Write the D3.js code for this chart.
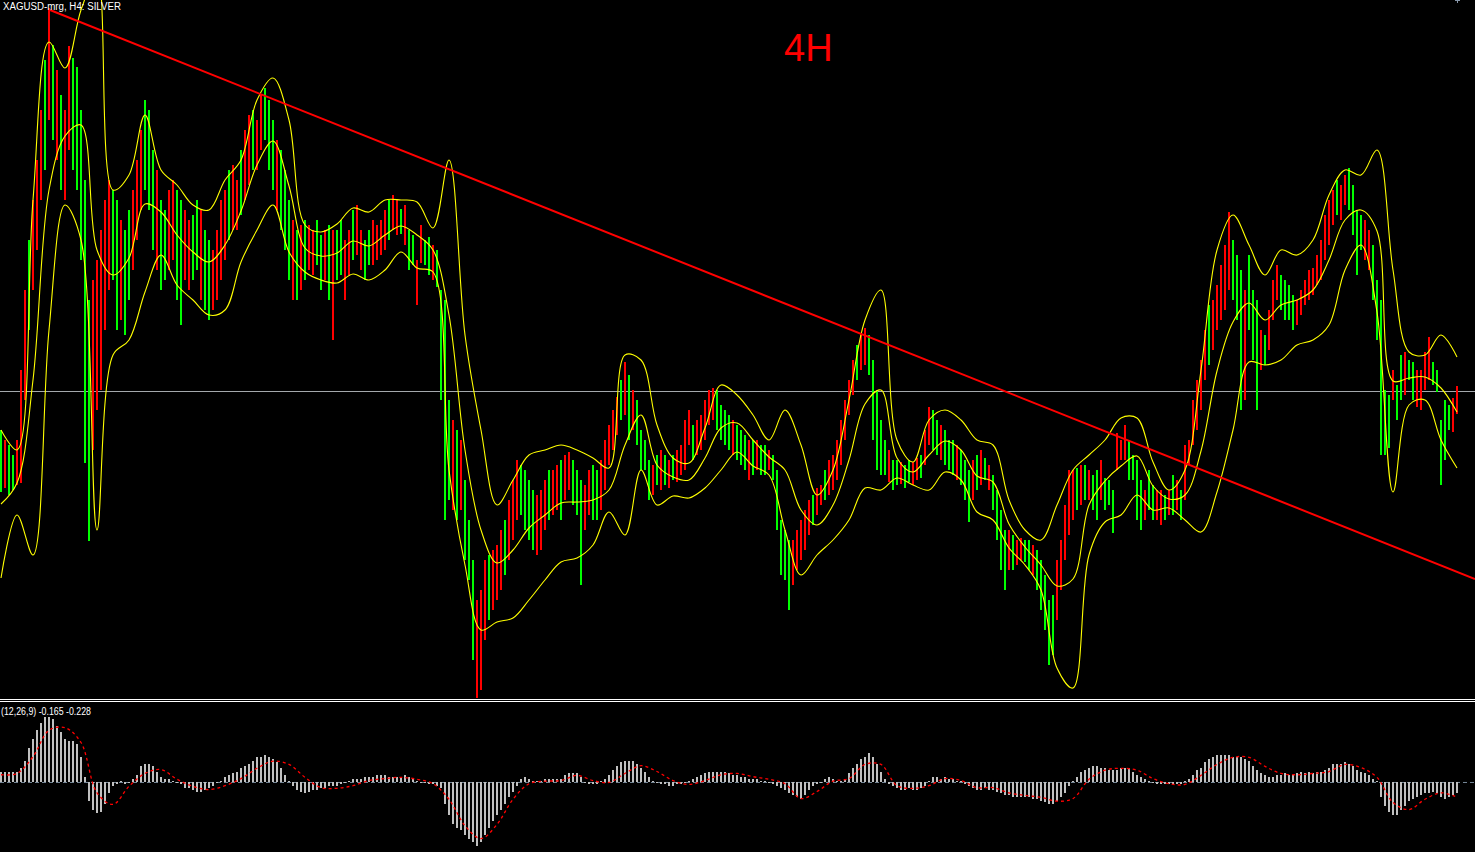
<!DOCTYPE html>
<html><head><meta charset="utf-8">
<script src="https://cdn.jsdelivr.net/npm/d3@7"></script>
<style>html,body{margin:0;padding:0;background:#000;overflow:hidden}</style>
</head><body><svg id="c" width="1475" height="852"></svg>
<script>
// ---------- data ----------
const chartTitle = "XAGUSD-mrg, H4: SILVER";
const timeframeLabel = "4H";
const macdLabel = "(12,26,9) -0.165 -0.228";

// H4 bars: highs / lows (price), direction u = up bar, d = down bar
const highs = [
24.70,24.60,24.55,24.45,24.60,25.30,26.10,26.60,27.00,27.40,
27.90,28.40,28.92,28.55,28.30,28.05,27.90,28.54,28.42,28.33,
27.90,27.20,26.00,26.20,26.40,
26.70,27.00,27.20,27.10,27.00,26.80,26.70,26.90,27.10,27.40,
27.70,28.00,27.90,27.50,27.30,27.00,26.90,27.10,27.20,27.10,
27.00,26.90,26.80,26.85,27.00,26.90,26.70,26.60,26.50,26.70,
27.00,27.10,27.30,27.35,27.20,27.50,27.70,27.85,27.90,27.80,
28.05,28.12,28.00,27.80,27.60,27.50,27.30,27.00,26.80,26.70,
26.75,26.80,26.75,26.70,26.80,26.65,26.70,26.75,26.70,26.70,
26.80,26.60,26.70,26.90,26.95,26.70,26.60,26.70,26.80,26.75,
26.80,26.90,27.00,27.05,27.00,26.91,26.95,26.70,26.65,26.40,
26.75,26.60,26.63,26.55,26.50,
26.10,26.00,25.00,24.80,24.70,24.60,24.20,23.80,23.40,23.00,
23.10,23.40,23.45,23.50,23.55,23.70,23.80,24.00,24.20,24.40,
24.35,
24.30,24.20,24.10,24.05,24.10,24.20,24.30,24.30,24.35,24.40,
24.45,24.48,24.40,24.30,24.20,24.15,24.30,24.35,24.30,24.40,
24.60,24.75,24.90,25.03,25.20,25.38,25.25,25.10,25.00,24.70,
24.60,24.40,24.35,24.45,24.50,24.45,24.40,24.45,24.50,24.55,
24.80,24.90,24.75,24.80,24.85,25.00,25.10,25.12,25.10,24.95,
24.90,24.85,24.80,24.75,24.70,24.65,24.60,24.60,24.60,24.55,
24.55,24.50,24.45,24.30,23.80,23.70,23.60,23.60,23.70,23.80,
23.90,24.00,24.05,24.12,24.15,24.30,24.40,24.45,24.60,24.80,
25.00,25.20,25.40,25.55,25.65,25.72,25.65,25.40,25.10,24.80,
24.60,24.50,24.40,24.40,24.38,24.35,24.40,24.38,24.42,24.45,
24.70,24.93,24.90,24.80,24.75,24.70,24.60,24.60,24.55,24.50,
24.40,24.30,24.40,24.45,24.50,24.42,24.35,24.25,24.10,23.90,
23.70,23.70,23.65,23.60,23.62,23.60,23.60,23.55,23.50,23.40,
23.25,23.00,23.05,23.40,23.60,23.95,24.30,24.30,24.32,24.35,
24.35,24.30,24.25,24.30,24.40,24.22,24.20,24.10,24.67,24.60,
24.75,24.60,24.45,24.40,24.20,24.10,24.30,24.15,24.10,24.10,
24.05,24.10,24.25,24.20,24.10,
24.55,24.60,25.00,25.20,25.40,25.70,25.95,26.00,26.15,26.35,
26.55,26.88,26.60,26.45,26.30,26.10,26.45,26.10,26.00,25.70,
25.65,25.90,26.20,26.35,26.25,26.20,26.15,26.05,26.00,26.10,
26.20,26.30,26.32,26.45,26.60,26.85,27.00,27.10,27.20,27.15,
27.25,27.32,27.15,26.90,26.85,26.80,26.70,26.55,26.20,26.00,
25.10,25.05,25.30,25.15,25.45,25.48,25.40,25.38,25.30,25.30,
25.48,25.63,25.38,25.30,24.80,25.00,24.95,25.02,25.14];

const lows = [
24.08,24.12,24.05,24.10,24.15,24.17,25.00,25.70,26.10,26.50,
27.00,27.30,27.80,27.60,27.40,27.10,27.00,27.50,27.30,27.10,
26.40,24.37,23.59,24.50,24.90,
25.10,25.70,26.10,26.20,25.70,25.80,25.65,26.00,26.30,26.60,
26.90,27.10,26.90,26.50,26.30,26.10,26.20,26.30,26.40,26.00,
25.75,26.20,26.10,26.20,26.30,26.00,25.90,25.80,25.90,26.00,
26.20,26.40,26.60,26.70,26.70,26.85,27.00,27.15,27.30,27.30,
27.50,27.60,27.30,27.10,26.90,26.70,26.50,26.20,26.00,26.00,
26.10,26.20,26.30,26.25,26.35,26.10,26.20,26.00,25.60,26.20,
26.25,26.00,26.25,26.40,26.45,26.30,26.20,26.35,26.35,26.40,
26.45,26.50,26.60,26.70,26.65,26.66,26.55,26.30,26.35,25.95,
26.37,26.35,26.25,26.20,26.13,
25.00,23.80,24.00,23.90,23.80,23.90,23.40,23.20,22.40,22.02,
22.10,22.60,22.80,22.90,23.00,23.10,23.25,23.40,23.60,23.80,
23.85,
23.70,23.60,23.50,23.45,23.50,23.70,23.80,23.85,23.90,23.80,
24.00,24.10,23.95,23.85,23.15,23.70,23.85,23.80,23.80,23.90,
24.10,24.35,24.50,24.65,24.80,24.85,24.60,24.70,24.55,24.30,
24.30,24.00,24.05,24.15,24.10,24.15,24.12,24.20,24.18,24.25,
24.30,24.55,24.40,24.45,24.50,24.60,24.75,24.80,24.70,24.60,
24.55,24.50,24.45,24.40,24.35,24.30,24.20,24.25,24.30,24.25,
24.25,24.30,24.20,23.70,23.25,23.20,22.90,23.15,23.30,23.40,
23.50,23.65,23.75,23.85,23.95,24.00,24.05,24.10,24.20,24.35,
24.60,24.85,25.05,25.20,25.30,25.35,25.25,24.60,24.30,24.25,
24.25,24.18,24.10,24.15,24.16,24.12,24.18,24.15,24.20,24.22,
24.35,24.55,24.50,24.45,24.40,24.35,24.30,24.25,24.20,24.15,
24.00,23.78,24.00,24.10,24.15,24.20,24.10,23.90,23.60,23.30,
23.10,23.30,23.30,23.35,23.40,23.38,23.30,23.25,23.10,22.90,
22.70,22.35,22.45,22.80,23.10,23.40,23.65,23.80,23.90,23.95,
24.00,24.00,23.90,23.80,24.00,23.90,23.95,23.67,24.30,24.40,
24.40,24.20,24.20,23.80,23.70,23.80,23.90,23.80,23.80,23.75,
23.80,23.85,23.85,23.90,23.80,
24.00,24.35,24.55,24.70,24.90,25.20,25.35,25.50,25.70,25.80,
25.90,26.10,26.00,25.80,24.90,25.00,25.70,25.40,24.90,25.30,
25.35,25.50,25.80,26.00,25.90,25.80,25.80,25.70,25.75,25.85,
25.95,26.00,26.05,26.15,26.20,26.40,26.55,26.75,26.85,26.80,
26.95,26.90,26.65,26.25,26.50,26.40,26.30,26.00,25.60,24.45,
24.45,24.52,25.00,24.80,25.00,25.05,25.20,25.00,24.93,24.90,
25.10,25.20,25.15,25.08,24.15,24.40,24.70,24.68,24.86];

const barDirs = [
"dudduuuduu","udududuudd","ddduu",
"uuuddudduu","udddudduud","duuddudduu","uuduuduudu","udddudddud",
"uduuddudud","duuduudduu","uuduududdu","uddud",
"dddududddu","uuduuuduuu","d",
"ddduuuduud","uuddduuddu","uuuudududd","ddudududuu","uuduuuuudd",
"ddudddudud","duddddduuu","uuduuduuuu","uuuduudddd","duddudduud",
"uuddudddud","ddudududdd","duduuddudd","ddduuuuudu","dudduddduu",
"uddddudduu","dudud",
"uuuuuuduuu","uudddudddu","duuudddduu","uuuuuuuudu","udddduuddd",
"dduddudduu","uuddddduu"].join("");

// Bollinger bands, one value every 4 bars
const bandStep = 4;
const bbUpper = [
24.70,24.50,27.00,28.58,28.32,28.90,29.25,27.10,27.25,27.85,
27.30,27.15,26.95,26.90,27.20,27.40,28.00,28.22,27.80,26.75,
26.68,26.76,26.92,26.88,27.00,27.00,26.98,26.72,27.40,25.65,
24.70,23.95,24.20,24.45,24.50,24.55,24.50,24.42,24.32,25.45,
25.40,24.75,24.42,24.37,24.72,25.15,25.05,24.85,24.60,24.90,
24.55,24.05,24.30,25.00,25.80,26.10,24.60,24.38,24.80,24.90,
24.80,24.60,24.55,24.00,23.70,23.60,23.95,24.30,24.45,24.60,
24.82,24.82,24.38,24.10,24.30,25.30,26.50,26.85,26.55,26.25,
26.50,26.45,26.60,27.05,27.30,27.25,27.50,26.30,25.48,25.45,
25.65,25.43];
const bbMiddle = [
23.96,24.17,25.20,27.10,27.64,27.75,26.50,26.25,26.42,26.96,
26.88,26.65,26.48,26.38,26.55,26.89,27.35,27.59,27.14,26.52,
26.44,26.47,26.59,26.54,26.65,26.74,26.65,26.50,25.85,24.50,
23.70,23.37,23.50,23.72,23.85,23.97,23.98,24.00,24.10,24.55,
24.85,24.35,24.23,24.20,24.42,24.72,24.77,24.60,24.43,24.30,
23.90,23.75,23.95,24.40,24.96,25.10,24.42,24.28,24.45,24.59,
24.50,24.24,24.18,23.76,23.53,23.35,23.14,23.21,23.95,24.19,
24.34,24.44,24.14,24.01,24.05,24.49,25.29,25.78,25.97,25.80,
25.95,26.00,26.10,26.40,26.80,26.90,26.69,25.19,25.22,25.23,
25.12,24.88];
const bbLower = [
23.22,23.85,23.45,25.70,26.95,26.60,23.70,25.45,25.60,26.08,
26.45,26.15,26.00,25.85,25.90,26.38,26.70,26.95,26.48,26.28,
26.20,26.17,26.26,26.20,26.30,26.48,26.32,26.28,24.30,23.35,
22.70,22.78,22.82,23.00,23.20,23.38,23.42,23.55,23.88,23.65,
24.30,23.95,24.04,24.02,24.12,24.30,24.48,24.34,24.25,23.70,
23.25,23.45,23.60,23.80,24.12,24.10,24.22,24.15,24.10,24.28,
24.20,23.88,23.80,23.52,23.35,23.10,22.32,22.12,23.45,23.78,
23.85,24.05,23.90,23.92,23.80,23.68,24.08,24.70,25.38,25.35,
25.40,25.55,25.60,25.75,26.30,26.55,25.88,24.08,24.95,25.00,
24.60,24.32];

// MACD(12,26,9): main value per bar, signal every 4 bars
const macdMain = [
0.16,0.16,0.16,0.16,0.17,0.22,0.34,0.53,0.68,0.81,
0.93,1.01,1.02,0.98,0.88,0.78,0.68,0.65,0.65,0.60,
0.39,0.09,-0.28,-0.42,-0.48,-0.45,-0.34,-0.16,-0.06,-0.03,
0.02,-0.02,0.00,0.05,0.12,0.25,0.29,0.29,0.25,0.16,
0.09,0.05,0.05,0.03,0.00,-0.03,-0.08,-0.09,-0.12,-0.14,
-0.14,-0.12,-0.08,-0.05,0.00,0.03,0.08,0.11,0.14,0.17,
0.22,0.26,0.29,0.34,0.39,0.40,0.42,0.40,0.37,0.31,
0.23,0.12,0.02,-0.06,-0.12,-0.14,-0.16,-0.14,-0.12,-0.11,
-0.09,-0.08,-0.06,-0.05,-0.05,-0.03,0.00,0.03,0.05,0.05,
0.06,0.08,0.09,0.09,0.11,0.11,0.11,0.09,0.09,0.09,
0.09,0.11,0.08,0.05,0.02,0.00,0.00,-0.02,-0.03,-0.06,
-0.09,-0.34,-0.50,-0.65,-0.70,-0.74,-0.82,-0.87,-0.93,-0.99,
-0.93,-0.82,-0.70,-0.60,-0.51,-0.42,-0.33,-0.23,-0.14,-0.05,
0.05,0.08,0.06,0.03,0.02,0.03,0.06,0.05,0.05,0.05,
0.06,0.11,0.14,0.14,0.14,0.09,0.00,-0.03,-0.02,-0.02,
0.02,0.05,0.11,0.19,0.25,0.31,0.34,0.34,0.33,0.28,
0.23,0.16,0.09,0.03,0.00,-0.02,-0.03,-0.05,-0.05,-0.03,
-0.02,0.00,0.03,0.06,0.09,0.11,0.14,0.16,0.17,0.17,
0.17,0.16,0.14,0.12,0.11,0.09,0.08,0.06,0.06,0.05,
0.03,0.02,0.00,-0.02,-0.05,-0.09,-0.12,-0.16,-0.19,-0.23,
-0.26,-0.20,-0.12,-0.06,-0.03,0.00,0.06,0.09,0.06,0.03,
0.03,0.06,0.14,0.23,0.29,0.36,0.40,0.45,0.40,0.28,
0.16,0.05,-0.02,-0.06,-0.09,-0.11,-0.11,-0.09,-0.11,-0.11,
-0.08,-0.05,0.03,0.09,0.08,0.06,0.08,0.06,0.05,0.03,
0.02,-0.03,-0.06,-0.09,-0.11,-0.11,-0.09,-0.11,-0.12,-0.14,
-0.16,-0.19,-0.20,-0.22,-0.22,-0.22,-0.22,-0.23,-0.25,-0.26,
-0.28,-0.31,-0.34,-0.33,-0.29,-0.23,-0.16,-0.06,0.03,0.09,
0.16,0.20,0.23,0.25,0.25,0.23,0.22,0.20,0.20,0.20,
0.22,0.23,0.22,0.17,0.12,0.08,0.05,0.02,0.00,-0.02,
-0.02,-0.03,-0.03,-0.03,-0.03,-0.02,0.02,0.06,0.12,0.19,
0.23,0.31,0.36,0.40,0.43,0.43,0.43,0.42,0.40,0.40,
0.39,0.37,0.33,0.26,0.20,0.14,0.11,0.09,0.09,0.11,
0.12,0.14,0.12,0.12,0.14,0.16,0.14,0.16,0.14,0.16,
0.16,0.19,0.23,0.28,0.29,0.29,0.31,0.29,0.25,0.20,
0.17,0.14,0.11,0.06,0.02,-0.22,-0.36,-0.45,-0.50,-0.50,
-0.42,-0.36,-0.29,-0.25,-0.22,-0.19,-0.16,-0.16,-0.14,-0.17,
-0.22,-0.25,-0.22,-0.19,-0.165];
const signalStep = 4;
const macdSignal = [
0.12,0.14,0.40,0.81,0.85,0.62,-0.16,-0.34,-0.06,0.14,
0.20,0.05,-0.06,-0.11,-0.05,0.06,0.22,0.33,0.28,0.08,
-0.08,-0.09,-0.05,0.03,0.06,0.08,0.05,-0.02,-0.26,-0.67,
-0.87,-0.65,-0.26,-0.02,0.02,0.03,0.11,0.03,0.00,0.14,
0.26,0.17,0.03,-0.03,0.03,0.12,0.14,0.09,0.05,-0.02,
-0.25,-0.14,0.02,0.06,0.28,0.28,-0.05,-0.09,-0.05,0.06,
0.03,-0.08,-0.08,-0.16,-0.20,-0.23,-0.29,-0.25,0.05,0.19,
0.22,0.19,0.06,-0.02,-0.03,0.11,0.28,0.39,0.39,0.25,
0.14,0.12,0.14,0.17,0.28,0.23,0.08,-0.31,-0.42,-0.26,
-0.16,-0.228];

const levelPrice = 25.09;
const trendLine = [{bar: 12.25, price: 28.90}, {bar: 368.5, price: 23.21}];

// ---------- drawing ----------
const W = 1475, H = 852, mainBottom = 698;
const svg = d3.select("#c");
svg.append("rect").attr("width", W).attr("height", H).attr("fill", "#000");

const x = d3.scaleLinear().domain([0, 364]).range([1, 1457]);
const y = d3.scaleLinear().domain([22.02, 29.00]).range([mainBottom, 0]);
const ym = d3.scaleLinear().domain([-1.078, 1.248]).range([852, 702]);

const defs = svg.append("defs");
defs.append("clipPath").attr("id", "mainClip").append("rect")
  .attr("x", 0).attr("y", 0).attr("width", W).attr("height", mainBottom);
defs.append("clipPath").attr("id", "subClip").append("rect")
  .attr("x", 0).attr("y", 703).attr("width", W).attr("height", H - 703);

const g = svg.append("g").attr("clip-path", "url(#mainClip)");

// price level line
g.append("line").attr("x1", 0).attr("x2", W)
  .attr("y1", Math.round(y(levelPrice)) + 0.5).attr("y2", Math.round(y(levelPrice)) + 0.5)
  .attr("stroke", "#a4a8ac").attr("stroke-width", 1);

// bars
g.append("g").attr("shape-rendering", "crispEdges")
  .selectAll("rect").data(highs).join("rect")
  .attr("x", (d, i) => x(i) - 1)
  .attr("y", (d, i) => y(highs[i]))
  .attr("width", 2)
  .attr("height", (d, i) => Math.max(1, y(lows[i]) - y(highs[i])))
  .attr("fill", (d, i) => barDirs[i] === "u" ? "#ff0000" : "#00ff00");

// Bollinger bands
const bandLine = d3.line()
  .x((d, k) => x(k * bandStep))
  .y(d => y(d))
  .curve(d3.curveCatmullRom.alpha(0.5));
[bbUpper, bbMiddle, bbLower].forEach(arr => {
  g.append("path").datum(arr).attr("d", bandLine)
    .attr("fill", "none").attr("stroke", "#ffff00").attr("stroke-width", 1.1);
});

// trend line
g.append("line")
  .attr("x1", x(trendLine[0].bar)).attr("y1", y(trendLine[0].price))
  .attr("x2", x(trendLine[1].bar)).attr("y2", y(trendLine[1].price))
  .attr("stroke", "#ff0000").attr("stroke-width", 2);

// texts
svg.append("text").attr("x", 3).attr("y", 10)
  .attr("fill", "#ffffff").attr("font-family", "Liberation Sans, Arial, sans-serif")
  .attr("font-size", 10).attr("textLength", 118).attr("lengthAdjust", "spacingAndGlyphs")
  .text(chartTitle);
svg.append("text").attr("x", 784).attr("y", 61)
  .attr("fill", "#ff0000").attr("font-family", "Liberation Sans, Arial, sans-serif")
  .attr("font-size", 38).text(timeframeLabel);

// small marker top right
svg.append("rect").attr("x", 1455).attr("y", 0).attr("width", 5).attr("height", 1).attr("fill", "#8796a8");
svg.append("rect").attr("x", 1457).attr("y", 0).attr("width", 1).attr("height", 3).attr("fill", "#8796a8");

// separator
svg.append("rect").attr("x", 0).attr("y", 699).attr("width", W).attr("height", 1).attr("fill", "#ffffff");
svg.append("rect").attr("x", 0).attr("y", 701).attr("width", W).attr("height", 1).attr("fill", "#ffffff");

// MACD panel
const sg = svg.append("g").attr("clip-path", "url(#subClip)");
sg.append("line").attr("x1", 0).attr("x2", W)
  .attr("y1", ym(0)).attr("y2", ym(0))
  .attr("stroke", "#778899").attr("stroke-width", 1).attr("stroke-dasharray", "4,3");
sg.append("g").attr("shape-rendering", "crispEdges")
  .selectAll("rect").data(macdMain).join("rect")
  .attr("x", (d, i) => x(i) - 1)
  .attr("y", d => Math.min(ym(0), ym(d)))
  .attr("width", 2)
  .attr("height", d => Math.max(1, Math.abs(ym(d) - ym(0))))
  .attr("fill", "#c0c0c0");
const sigLine = d3.line()
  .x((d, k) => x(k * signalStep))
  .y(d => ym(d))
  .curve(d3.curveCatmullRom.alpha(0.5));
sg.append("path").datum(macdSignal).attr("d", sigLine)
  .attr("fill", "none").attr("stroke", "#ff0000").attr("stroke-width", 1.3)
  .attr("stroke-dasharray", "3,3");

svg.append("text").attr("x", 1).attr("y", 715)
  .attr("fill", "#ffffff").attr("font-family", "Liberation Sans, Arial, sans-serif")
  .attr("font-size", 10.5).attr("textLength", 90).attr("lengthAdjust", "spacingAndGlyphs")
  .text(macdLabel);
</script>
</body></html>
